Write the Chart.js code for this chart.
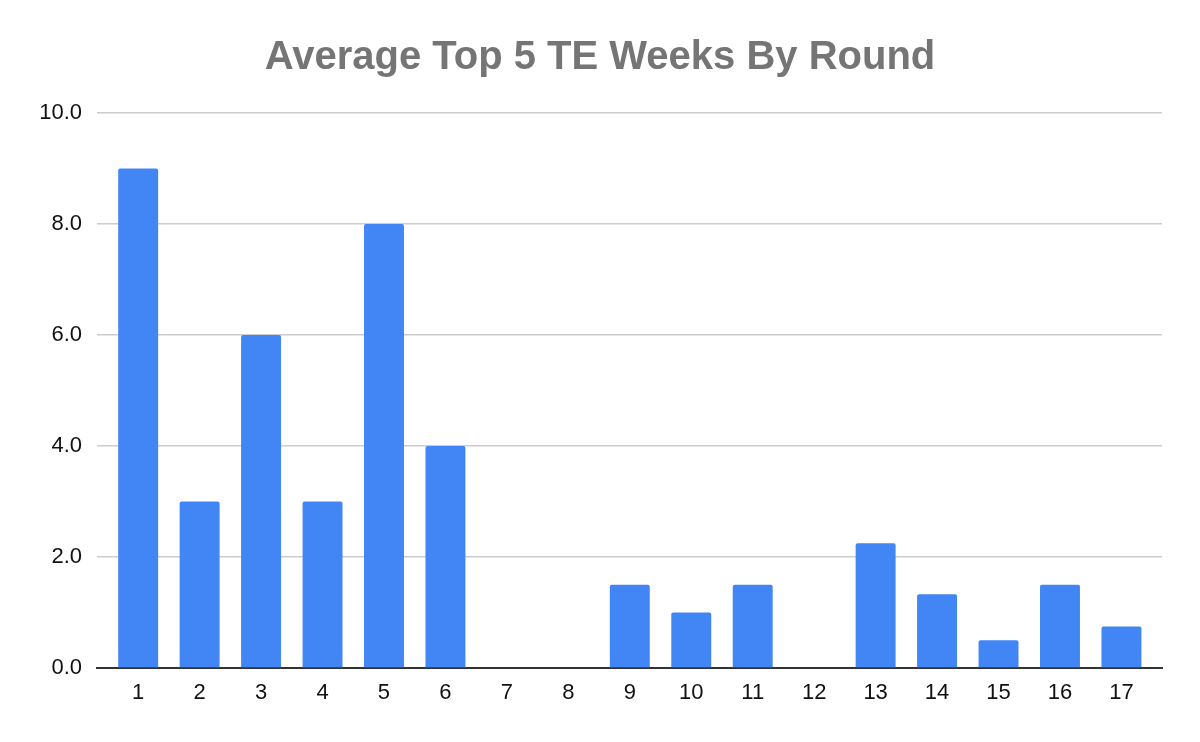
<!DOCTYPE html>
<html>
<head>
<meta charset="utf-8">
<script src="https://cdn.jsdelivr.net/npm/chart.js@4"></script>
<style>
  html, body { margin: 0; padding: 0; background: #fff; }
  #wrap { width: 1200px; height: 742px; }
</style>
</head>
<body>
<div id="wrap"><canvas id="roundChart" width="1200" height="742"></canvas></div>
<script>
// data
var rounds = [1, 2, 3, 4, 5, 6, 7, 8, 9, 10, 11, 12, 13, 14, 15, 16, 17];
var avgTop5Weeks = [9, 3, 6, 3, 8, 4, 0, 0, 1.5, 1, 1.5, 0, 2.25, 1.33, 0.5, 1.5, 0.75];
var yTicks = [0, 2, 4, 6, 8, 10];

var fontFamily = 'Liberation Sans, Arial, sans-serif';

var ctx = document.getElementById('roundChart').getContext('2d');

var roundChart = new Chart(ctx, {
    type: 'bar',
    data: {
        datasets: [
            {
                label: 'Average Top 5 TE Weeks',
                data: rounds.map(function (r, i) { return { x: r, y: avgTop5Weeks[i] }; }),
                backgroundColor: '#4285F4',
                borderRadius: { topLeft: 2, topRight: 2 },
                borderSkipped: 'bottom',
                barPercentage: 0.65,
                categoryPercentage: 1.0
            }
        ]
    },
    options: {
        responsive: false,
        animation: false,
        layout: {
            padding: { left: 38, right: 38, top: 0, bottom: 0 }
        },
        plugins: {
            legend: { display: false },
            tooltip: { enabled: false },
            title: {
                display: true,
                text: 'Average Top 5 TE Weeks By Round',
                color: '#757575',
                font: { family: fontFamily, size: 40, weight: 'bold' },
                padding: { top: 34, bottom: 31 }
            }
        },
        scales: {
            x: {
                type: 'linear',
                min: 0.33,
                max: 17.66,
                offset: false,
                afterBuildTicks: function (scale) {
                    scale.ticks = rounds.map(function (v) { return { value: v }; });
                },
                grid: { display: false },
                border: { display: true, color: '#333333', width: 2 },
                ticks: {
                    autoSkip: false,
                    maxRotation: 0,
                    color: '#111111',
                    padding: 4,
                    font: { family: fontFamily, size: 22 },
                    callback: function (v) { return String(v); }
                },
                afterFit: function (scale) { scale.height = 74; }
            },
            y: {
                min: 0,
                max: 10,
                afterBuildTicks: function (scale) {
                    scale.ticks = yTicks.map(function (v) { return { value: v }; });
                },
                grid: { color: '#cccccc', lineWidth: 1.5, drawTicks: false },
                border: { display: false },
                ticks: {
                    color: '#111111',
                    padding: 15,
                    font: { family: fontFamily, size: 22 },
                    callback: function (v) { return Number(v).toFixed(1); }
                },
                afterFit: function (scale) { scale.width = 59; }
            }
        }
    }
});
</script>
</body>
</html>
